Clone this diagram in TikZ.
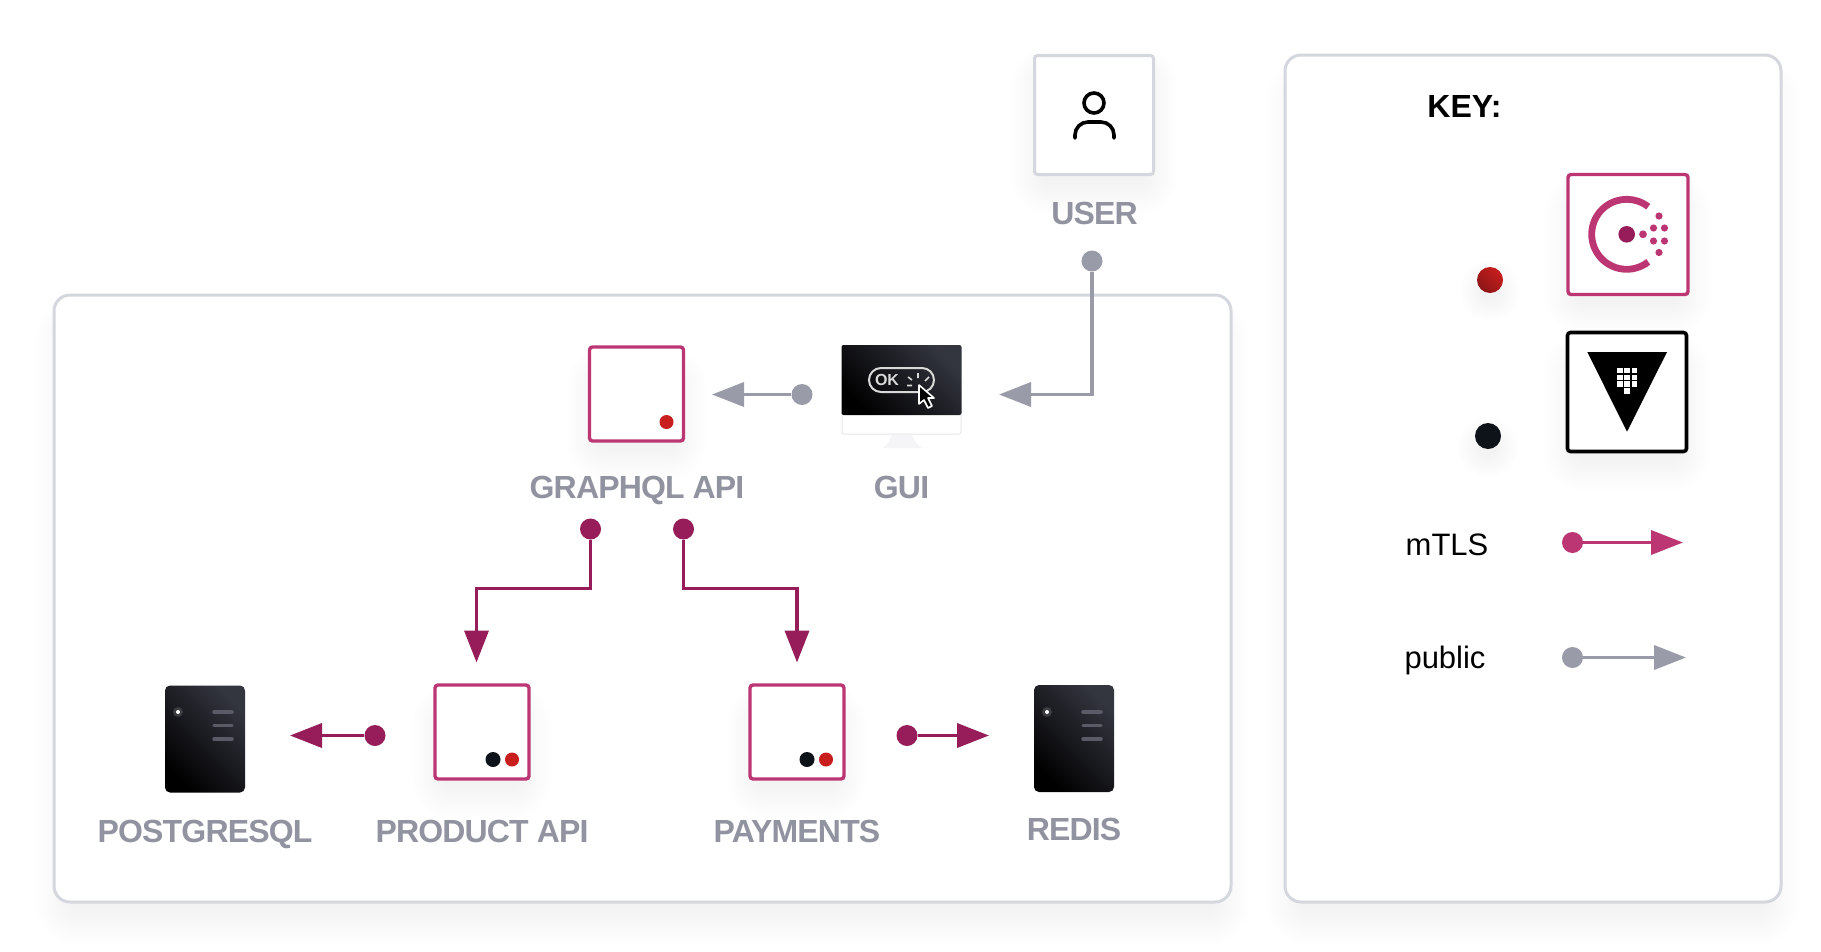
\documentclass[tikz,border=0pt]{standalone}
\usepackage{fontspec}
\setmainfont{Liberation Sans}
\newfontfamily\labfont[LetterSpace=-2.6]{Liberation Sans}
\usetikzlibrary{arrows.meta}
\definecolor{pinkb}{HTML}{BC3673}
\definecolor{plum}{HTML}{961D59}
\definecolor{slate}{HTML}{9A9BA9}
\definecolor{labc}{HTML}{9293A1}
\definecolor{frame}{HTML}{D5D7DE}
\definecolor{redd}{HTML}{C81E1E}
\definecolor{inkd}{HTML}{0E1219}
\definecolor{steel}{HTML}{33353F}
\definecolor{barc}{HTML}{5A5B66}
\newcommand{\softshadow}[7]{% x1 y1 x2 y2 step yoffset opacity
  \foreach \k in {12,11,...,1}{
    \fill[black,opacity=#7,rounded corners={(\k*#5+4)*1pt}]
      ({#1-\k*#5},{#2-\k*#5+#6}) rectangle ({#3+\k*#5},{#4+\k*#5+#6});
  }}
\newcommand{\dbdetail}{%
  \fill[white,opacity=.15] (178,712) circle (5);
  \fill[white] (178,712) circle (2);
  \draw[barc,line width=3.5pt,line cap=round] (214,712) -- (232,712) (214,725.5) -- (232,725.5) (214,739) -- (232,739);}
\tikzset{
  lab/.style={font=\labfont\fontsize{32}{36}\selectfont\bfseries,text=labc,inner sep=0pt,anchor=base},
  keytxt/.style={font=\fontsize{31}{36}\selectfont,text=black,inner sep=0pt,anchor=base},
  plainbox/.style={draw=frame,line width=3pt,fill=white,rounded corners=3pt,minimum size=#1,inner sep=0pt,outer sep=0pt},
  pinkbox/.style={draw=pinkb,line width=3.4pt,fill=white,rounded corners=3pt,minimum size=#1,inner sep=0pt,outer sep=0pt},
  blackbox/.style={draw=black,line width=3.6pt,fill=white,rounded corners=3pt,minimum size=#1,inner sep=0pt,outer sep=0pt},
  area/.style={draw=frame,line width=3pt,fill=white,rounded corners=16pt},
  pt/.style={circle,fill=#1,inner sep=0pt,minimum size=21pt},
  mini/.style={circle,fill=#1,inner sep=0pt,minimum size=14pt},
  conn/.style={line width=3.7pt,-{Triangle[length=32pt,width=24pt]},draw=#1},
  darkface/.style={left color=steel,right color=black,shading angle=-45},
  server/.style={darkface,rounded corners=5pt,minimum width=80pt,minimum height=107pt,inner sep=0pt},
}
\begin{document}
\begin{tikzpicture}[x=1pt,y=-1pt]
\useasboundingbox (0,0) rectangle (1821,951);
\fill[white] (0,0) rectangle (1821,951);
% areas
\softshadow{74}{330}{1211}{901}{3.2}{6}{0.0038}
\softshadow{1305}{90}{1761}{901}{3.2}{6}{0.0038}
\draw[area] (54,295) rectangle (1231,902);
\draw[area] (1285,55) rectangle (1781,902);
% shadows of small items
\softshadow{1045}{75}{1143}{176}{2.8}{5}{0.0042}
\softshadow{601}{376}{672}{441}{2.8}{5}{0.0042}
\softshadow{446}{714}{517}{779}{2.8}{5}{0.0042}
\softshadow{761}{714}{832}{779}{2.8}{5}{0.0042}
\softshadow{1579}{204}{1677}{295}{2.8}{5}{0.0042}
\softshadow{1578}{362}{1676}{452}{2.8}{5}{0.0042}
\softshadow{1484}{280}{1496}{292}{2}{5}{0.003}
\softshadow{1482}{436}{1494}{448}{2}{5}{0.003}
% user
\node[plainbox=119pt] (user) at (1094,115) {};
\draw[line width=3.6pt] (1094,103) circle (10);
\draw[line width=3.6pt,rounded corners=13pt,line cap=round] (1075,138) -- (1075,122) -- (1114,122) -- (1114,138);
\node[lab] (userl) at (1094.5,224) {USER};
\node[pt=slate] (userd) at (1092,261) {};
% gui monitor
\fill[white,draw=frame!60,line width=1pt,rounded corners=2pt] (842,410) rectangle (961,434);
\fill[frame!25] (892,435) -- (912,435) -- (916,443) -- (922,448) -- (883,448) -- (888,443) -- cycle;
\node[darkface,rounded corners=2pt,minimum width=120pt,minimum height=70pt,inner sep=0pt] (gui) at (901.5,380) {};
\draw[black!15,line width=2pt,rounded corners=12pt] (869,368) rectangle (934,392);
\node[font=\fontsize{16}{18}\selectfont\bfseries,text=black!15,inner sep=0pt] (ok) at (887,379.5) {OK};
\draw[black!15,line width=1.6pt] (907,385.5) -- (912,385.5) (908,377) -- (912,380) (918,373) -- (918,378) (929,377) -- (925,381);
\filldraw[fill=black,draw=white,line width=1.6pt,line join=round] (919,385) -- (919,404) -- (924,400) -- (928,408) -- (932,406) -- (928,398) -- (934,398) -- cycle;
\node[lab] (guil) at (901.5,498) {GUI};
\node[pt=slate] (guid) at (802,394.5) {};
\coordinate (gqltip) at (712,394.5);
\coordinate (guibend) at (1092,394.5);
\coordinate (guitip) at (999,394.5);
% graphql
\node[pinkbox=94pt] (gql) at (636.5,394) {};
\node[mini=redd] (gqlr) at (666.5,422) {};
\node[lab] (gqll) at (637,498) {GRAPHQL API};
\node[pt=plum] (gd1) at (590.5,529) {};
\node[pt=plum] (gd2) at (683.5,529) {};
\coordinate (b1a) at (590.5,588.5);
\coordinate (b1b) at (476.5,588.5);
\coordinate (t1) at (476.5,662.5);
\coordinate (b2a) at (683.5,588.5);
\coordinate (b2b) at (797,588.5);
\coordinate (t2) at (797,662.5);
% product
\node[pinkbox=94pt] (prod) at (482,732) {};
\node[mini=inkd,minimum size=15pt] (prodk) at (493,759.5) {};
\node[mini=redd] (prodr) at (512,759.5) {};
\node[lab] (prodl) at (482,842) {PRODUCT API};
\node[pt=plum] (prodd) at (375,735.5) {};
\coordinate (pgtip) at (290,735.5);
% payments
\node[pinkbox=94pt] (pay) at (797,732) {};
\node[mini=inkd,minimum size=15pt] (payk) at (807,759.5) {};
\node[mini=redd] (payr) at (826,759.5) {};
\node[lab] (payl) at (797,842) {PAYMENTS};
\node[pt=plum] (payd) at (907,735.5) {};
\coordinate (rdtip) at (989,735.5);
% postgres
\node[server] (pg) at (205,739) {};
\dbdetail
\node[lab] (pgl) at (205,842) {POSTGRESQL};
% redis
\node[server] (rd) at (1074,738.5) {};
\begin{scope}[shift={(869,0)}]
\dbdetail
\end{scope}
\node[lab] (rdl) at (1074,840) {REDIS};
% connectors
\draw[conn=slate] (userd) -- (guibend) -- (guitip);
\draw[conn=slate] (guid) -- (gqltip);
\draw[conn=plum] (gd1) -- (b1a) -- (b1b) -- (t1);
\draw[conn=plum] (gd2) -- (b2a) -- (b2b) -- (t2);
\draw[conn=plum] (prodd) -- (pgtip);
\draw[conn=plum] (payd) -- (rdtip);
% key
\node[font=\fontsize{32}{36}\selectfont\bfseries,text=black,inner sep=0pt,anchor=base] (keyt) at (1464.5,117.5) {KEY:};
\node[pinkbox=120pt] (consul) at (1628,234.5) {};
\draw[pinkb,line width=6.8pt] (1626.7,234.3)++(52:35) arc[start angle=52,end angle=308,radius=35];
\fill[plum] (1626.7,234.3) circle (8.3);
\fill[pinkb] (1643,234.3) circle (3.9)
  (1653.5,228) circle (3.6) (1664.5,228) circle (3.6)
  (1653.5,241) circle (3.6) (1664.5,241) circle (3.6)
  (1659,216) circle (3.6) (1659,252.5) circle (3.6);
\node[blackbox=119pt] (vault) at (1627,392) {};
\fill[black] (1587.3,352) -- (1667,352) -- (1627,431.7) -- cycle;
\foreach \gx/\gy in {0/0,1/0,2/0,0/1,1/1,2/1,0/2,1/2,2/2,1/3}{
  \fill[white] ({1620+7.1*\gx-2.7},{370.7+6.7*\gy-2.7}) rectangle ++(5.4,5.4);
}
\node[circle,inner sep=0pt,minimum size=26pt,left color=redd,right color=redd!70!black,shading angle=-45] (kr) at (1490,280) {};
\node[circle,inner sep=0pt,minimum size=26pt,fill=inkd] (kk) at (1488,436) {};
\node[keytxt] (mtls) at (1447,555.5) {mTLS};
\node[keytxt] (publ) at (1445,668) {public};
\node[pt=pinkb] (md) at (1572.5,542.5) {};
\coordinate (mt) at (1683,542.5);
\node[pt=slate] (pd) at (1572.5,657.5) {};
\coordinate (ptp) at (1686,657.5);
\draw[conn=pinkb] (md) -- (mt);
\draw[conn=slate] (pd) -- (ptp);
\end{tikzpicture}
\end{document}
